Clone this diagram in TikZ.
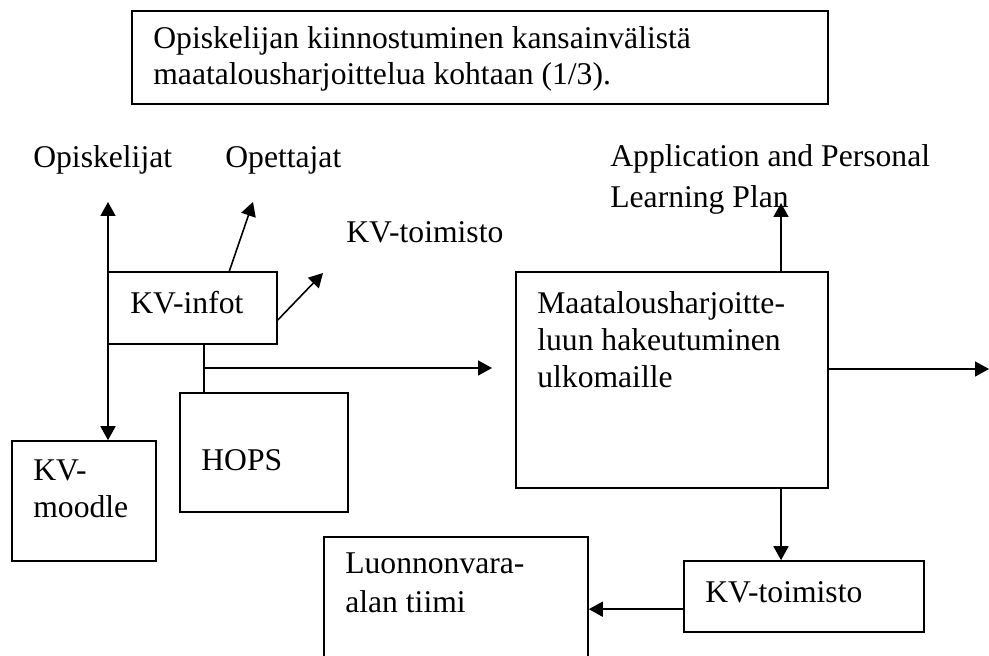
\documentclass[tikz,border=0pt]{standalone}
\usepackage{fontspec}
\setmainfont{Liberation Serif}
\usetikzlibrary{arrows.meta,fit}

\begin{document}
\begin{tikzpicture}[x=0.02cm,y=-0.02cm,
    box/.style={draw,line width=0.9pt,inner sep=0pt},
    txt/.style={anchor=base west,inner sep=0pt,font=\fontsize{18}{22}\selectfont},
    link/.style={line width=0.9pt},
    conn/.style={line width=0.9pt,-{Triangle[length=0.28cm,width=0.3cm]}}]
  \useasboundingbox (0,0) rectangle (989,655);

  % otsikko
  \node[box,fit={(132,11) (828,104)}] (title) {};
  \node[txt] (title1) at (153,49) {Opiskelijan kiinnostuminen kansainvälistä};
  \node[txt] (title2) at (153,85) {maatalousharjoittelua kohtaan (1/3).};

  % laatikot
  \node[box,fit={(108,272) (277,344)}] (infot) {};
  \node[box,fit={(180,393) (348,512)}] (hops) {};
  \node[box,fit={(12,441) (156,561)}] (moodle) {};
  \node[box,fit={(516,272) (828,488)}] (maat) {};
  \node[box,fit={(684,561) (924,632)}] (kvbox) {};
  \node[box,fit={(324,537) (588,690)}] (luonnon) {};

  \node[txt] (infottext) at (130,313) {KV-infot};
  \node[txt] (hopstext) at (201,470) {HOPS};
  \node[txt] (moodle1) at (33,480) {KV-};
  \node[txt] (moodle2) at (33,517) {moodle};
  \node[txt] (maat1) at (537,313) {Maatalousharjoitte-};
  \node[txt] (maat2) at (537,350) {luun hakeutuminen};
  \node[txt] (maat3) at (537,387) {ulkomaille};
  \node[txt] (kvtext) at (705,602) {KV-toimisto};
  \node[txt] (luonnon1) at (345,573) {Luonnonvara-};
  \node[txt] (luonnon2) at (345,612) {alan tiimi};

  % vapaat tekstit
  \node[txt] (opisk) at (33,168) {Opiskelijat};
  \node[txt] (opett) at (225,168) {Opettajat};
  \node[txt] (kvtoim) at (346,242) {KV-toimisto};
  \node[txt] (plan1) at (610,167) {Application and Personal};
  \node[txt] (plan2) at (610,207) {Learning Plan};

  % nuolten kärjet
  \coordinate (opisk tip) at (108,202);
  \coordinate (opett tip) at (253,202);
  \coordinate (kvtoim tip) at (323,273);
  \coordinate (branch) at (204,368);
  \coordinate (haku tip) at (492,368);
  \coordinate (plan tip) at (781,203);
  \coordinate (out tip) at (989,369);

  \draw[conn] (opisk tip |- infot.north) -- (opisk tip);
  \draw[conn] (opisk tip |- infot.south) -- (opisk tip |- moodle.north);
  \draw[conn] (infot.45) -- (opett tip);
  \draw[conn] (infot.-8) -- (kvtoim tip);
  \draw[link] (branch |- infot.south) -- (branch |- hops.north);
  \draw[conn] (branch) -- (haku tip);

  \draw[conn] (plan tip |- maat.north) -- (plan tip);
  \draw[conn] (out tip -| maat.east) -- (out tip);
  \draw[conn] (plan tip |- maat.south) -- (plan tip |- kvbox.north);
  \draw[conn] (kvbox.186) -- (kvbox.186 -| luonnon.east);
\end{tikzpicture}
\end{document}
